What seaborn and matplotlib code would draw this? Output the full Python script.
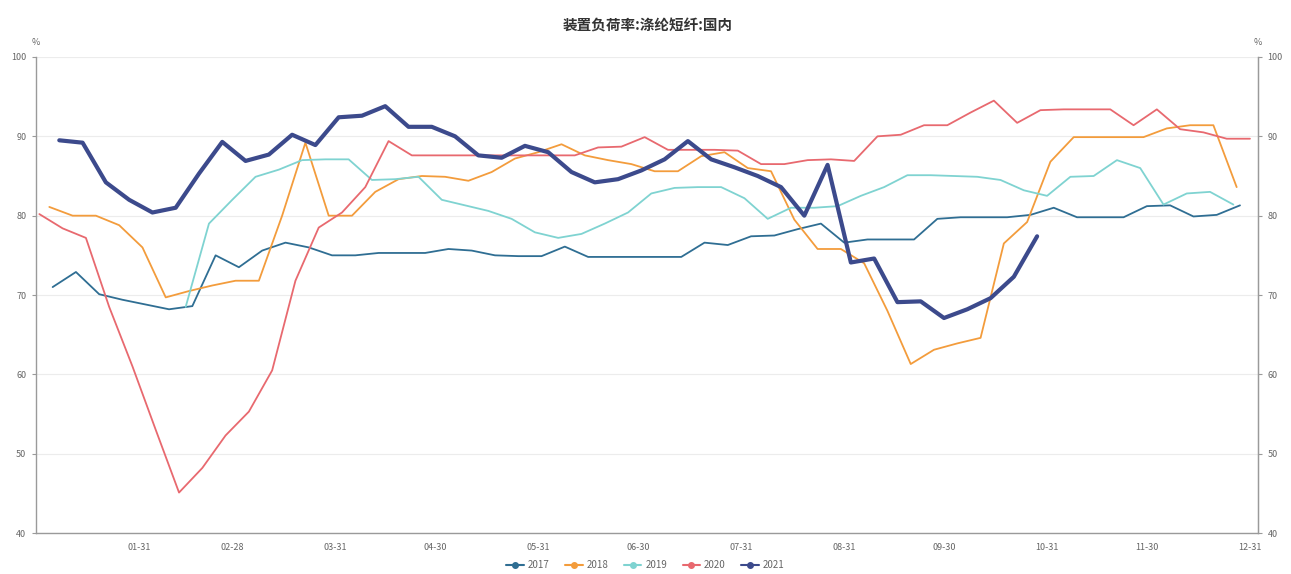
import numpy as np
import pandas as pd
import matplotlib
matplotlib.use("Agg")
import matplotlib.pyplot as plt
from matplotlib.lines import Line2D
import seaborn as sns

# Weekly utilisation rate (%) by year; each series starts on the given month-day
years = ["2017", "2018", "2019", "2020", "2021"]
start_days = ["01-05", "01-04", "02-14", "01-01", "01-07"]

rate_2017 = [71.0, 72.9, 70.1, 69.4, 68.8, 68.2, 68.6, 75.0, 73.5, 75.6, 76.6, 76.0, 75.0,
             75.0, 75.3, 75.3, 75.3, 75.8, 75.6, 75.0, 74.9, 74.9, 76.1, 74.8, 74.8, 74.8,
             74.8, 74.8, 76.6, 76.3, 77.4, 77.5, 78.3, 79.0, 76.6, 77.0, 77.0, 77.0, 79.6,
             79.8, 79.8, 79.8, 80.1, 81.0, 79.8, 79.8, 79.8, 81.2, 81.3, 79.9, 80.1, 81.3]
rate_2018 = [81.1, 80.0, 80.0, 78.8, 76.0, 69.7, 70.5, 71.2, 71.8, 71.8, 80.0, 89.2, 80.0,
             80.0, 83.0, 84.6, 85.0, 84.9, 84.4, 85.5, 87.2, 88.0, 89.0, 87.6, 87.0, 86.5,
             85.6, 85.6, 87.5, 88.0, 86.0, 85.6, 79.5, 75.8, 75.8, 74.0, 68.0, 61.3, 63.1,
             63.9, 64.6, 76.5, 79.2, 86.8, 89.9, 89.9, 89.9, 89.9, 91.0, 91.4, 91.4, 83.6]
rate_2019 = [68.5, 79.0, 82.0, 84.9, 85.8, 87.0, 87.1, 87.1, 84.5, 84.6, 84.9, 82.0, 81.3,
             80.6, 79.6, 77.9, 77.2, 77.7, 79.0, 80.4, 82.8, 83.5, 83.6, 83.6, 82.2, 79.6,
             81.0, 81.0, 81.2, 82.5, 83.6, 85.1, 85.1, 85.0, 84.9, 84.5, 83.2, 82.5, 84.9,
             85.0, 87.0, 86.0, 81.4, 82.8, 83.0, 81.4]
rate_2020 = [80.2, 78.4, 77.2, 68.5, 61.0, 53.0, 45.1, 48.2, 52.3, 55.3, 60.5, 71.8, 78.5,
             80.4, 83.6, 89.4, 87.6, 87.6, 87.6, 87.6, 87.6, 87.6, 87.6, 87.6, 88.6, 88.7,
             89.9, 88.3, 88.3, 88.3, 88.2, 86.5, 86.5, 87.0, 87.1, 86.9, 90.0, 90.2, 91.4,
             91.4, 93.0, 94.5, 91.7, 93.3, 93.4, 93.4, 93.4, 91.4, 93.4, 90.9, 90.5, 89.7,
             89.7]
rate_2021 = [89.5, 89.2, 84.2, 82.0, 80.4, 81.0, 85.3, 89.3, 86.9, 87.7, 90.2, 88.9, 92.4,
             92.6, 93.8, 91.2, 91.2, 90.0, 87.6, 87.3, 88.8, 88.0, 85.5, 84.2, 84.6, 85.7,
             87.1, 89.4, 87.1, 86.1, 85.0, 83.6, 80.0, 86.4, 74.1, 74.6, 69.1, 69.2, 67.1,
             68.2, 69.6, 72.3, 77.4]
series_values = [rate_2017, rate_2018, rate_2019, rate_2020, rate_2021]

colors = ["#2f6e93", "#f39c3c", "#7fd3d1", "#e8696f", "#3c4a8c"]
widths = [1.3, 1.3, 1.3, 1.3, 3.0]

month_ticks = ["01-31", "02-28", "03-31", "04-30", "05-31", "06-30",
               "07-31", "08-31", "09-30", "10-31", "11-30", "12-31"]
y_ticks = [40, 50, 60, 70, 80, 90, 100]

title = "装置负荷率:涤纶短纤:国内"

BASE = "2021"

frames = []
for yr, sd, vals in zip(years, start_days, series_values):
    dates = pd.date_range(f"{BASE}-{sd}", periods=len(vals), freq="7D")
    frames.append(pd.DataFrame({"date": dates, "rate": vals, "year": yr}))
df = pd.concat(frames, ignore_index=True)

sns.set_style("white")
plt.rcParams["font.family"] = ["Noto Sans CJK SC", "DejaVu Sans"]

fig = plt.figure(figsize=(12.91, 5.74), dpi=100)
ax = fig.add_axes([0.0279, 0.0714, 0.9465, 0.8293])

for yr, c, lw in zip(years, colors, widths):
    sub = df[df["year"] == yr]
    sns.lineplot(data=sub, x="date", y="rate", ax=ax, color=c, linewidth=lw,
                 legend=False, zorder=5 if yr == "2021" else 3)

ax.set_xlim(pd.Timestamp(f"{BASE}-01-01") - pd.Timedelta(days=1),
            pd.Timestamp(f"{BASE}-12-31") + pd.Timedelta(days=2.4))
ax.set_ylim(40, 100)
ax.set_yticks(y_ticks)
ax.set_xticks([pd.Timestamp(f"{BASE}-{m}") for m in month_ticks])
ax.set_xticklabels(month_ticks)
ax.set_xlabel("")
ax.set_ylabel("")

grid_c = "#ececec"
spine_c = "#9a9a9a"
txt_c = "#666666"
ax.yaxis.grid(True, color=grid_c, linewidth=0.8)
ax.xaxis.grid(False)
ax.set_axisbelow(True)
ax.spines["top"].set_visible(False)
for side in ["left", "bottom", "right"]:
    ax.spines[side].set_color(spine_c)
    ax.spines[side].set_linewidth(1.0)

ax.tick_params(axis="both", which="both", length=3, width=0.8, color=spine_c,
               labelsize=6.5, labelcolor=txt_c, direction="out", pad=4)

ax2 = ax.twinx()
ax2.set_ylim(40, 100)
ax2.set_yticks(y_ticks)
for side in ["top", "left", "bottom"]:
    ax2.spines[side].set_visible(False)
ax2.spines["right"].set_color(spine_c)
ax2.tick_params(axis="y", length=3, width=0.8, color=spine_c, labelsize=6.5,
                labelcolor=txt_c, direction="out", pad=4)
ax2.grid(False)

ax.text(0.0, 1.02, "%", transform=ax.transAxes, fontsize=6.5, color=txt_c,
        ha="center", va="bottom")
ax.text(1.0, 1.02, "%", transform=ax.transAxes, fontsize=6.5, color=txt_c,
        ha="center", va="bottom")

fig.text(0.502, 0.955, title, ha="center", va="center", fontsize=10.5,
         fontweight="bold", color="#333333")

handles = [Line2D([0], [0], color=c, linewidth=1.5, marker="o", markersize=4)
           for c in colors]
fig.legend(handles, years, loc="center", bbox_to_anchor=(0.5, 0.015), ncol=5,
           frameon=False, fontsize=7, handlelength=1.8, columnspacing=1.6,
           handletextpad=0.4, labelcolor=txt_c)

fig.savefig("out.png", dpi=100)
